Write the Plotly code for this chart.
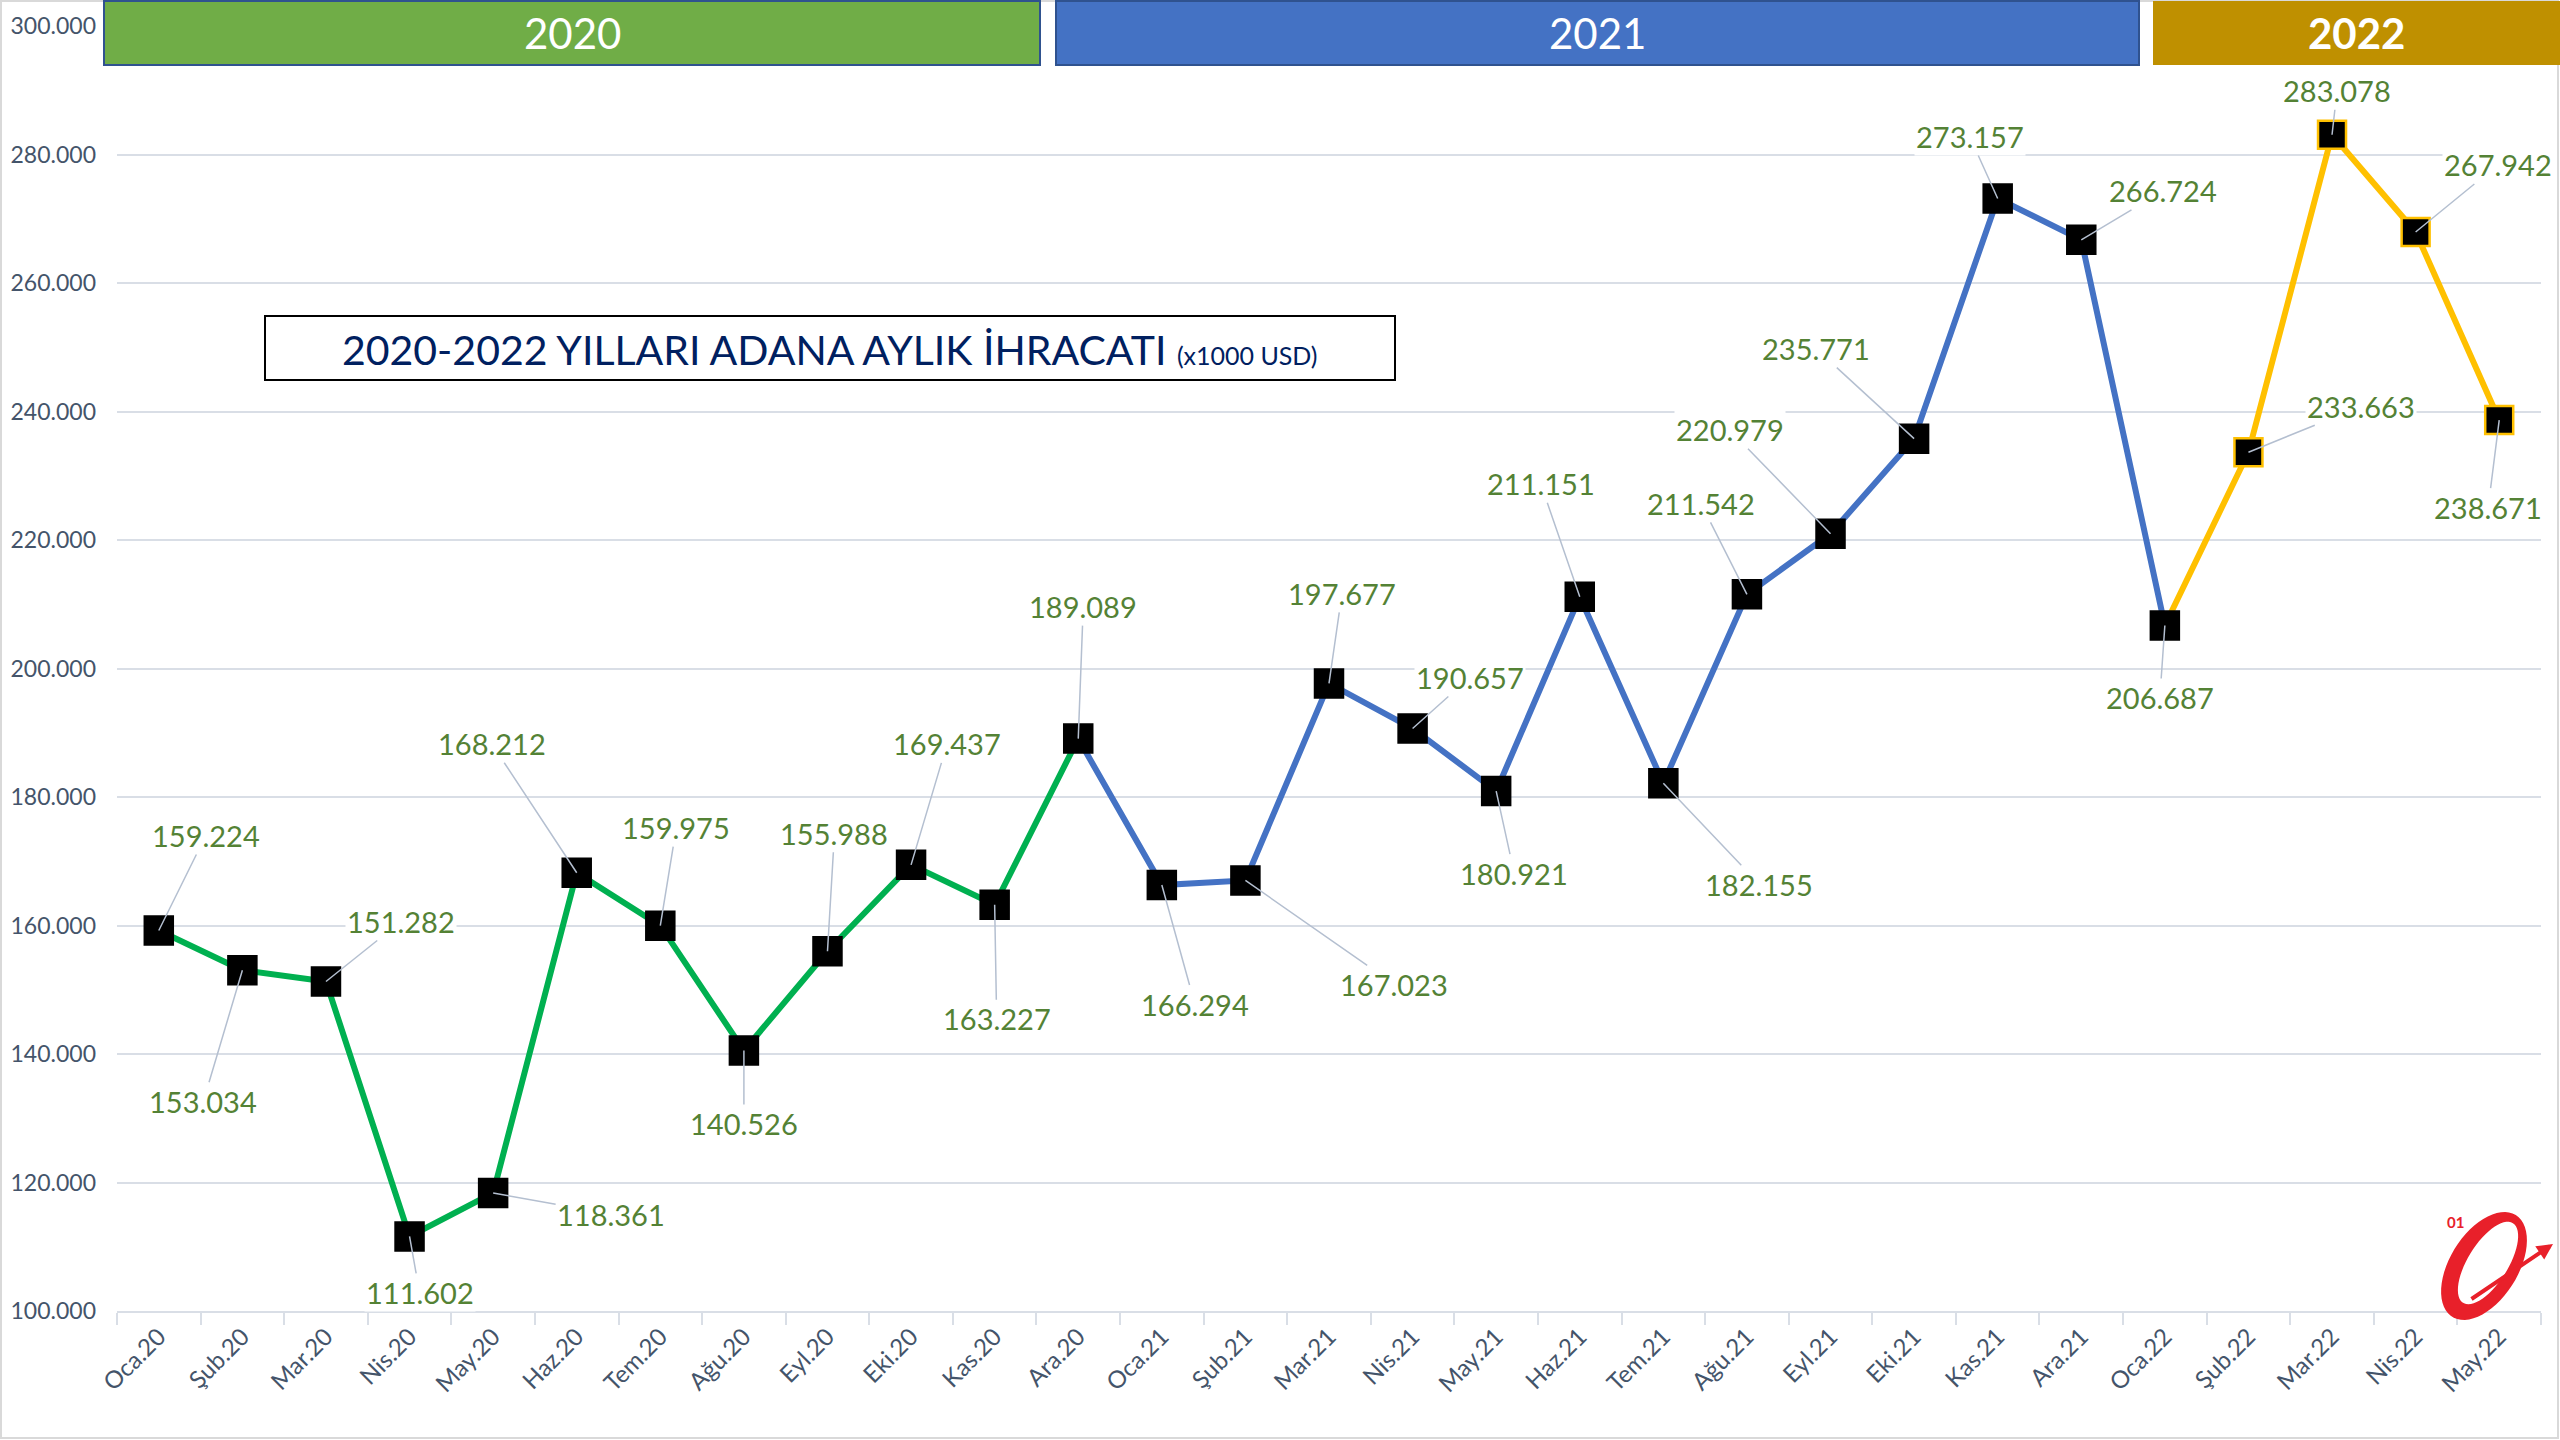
import numpy as np
import plotly.graph_objects as go

# --- data (x1000 USD) ---
months = ['Oca.20', 'Şub.20', 'Mar.20', 'Nis.20', 'May.20', 'Haz.20', 'Tem.20', 'Ağu.20',
          'Eyl.20', 'Eki.20', 'Kas.20', 'Ara.20',
          'Oca.21', 'Şub.21', 'Mar.21', 'Nis.21', 'May.21', 'Haz.21', 'Tem.21', 'Ağu.21',
          'Eyl.21', 'Eki.21', 'Kas.21', 'Ara.21',
          'Oca.22', 'Şub.22', 'Mar.22', 'Nis.22', 'May.22']
exports = [159224, 153034, 151282, 111602, 118361, 168212, 159975, 140526,
           155988, 169437, 163227, 189089,
           166294, 167023, 197677, 190657, 180921, 211151, 182155, 211542,
           220979, 235771, 273157, 266724,
           206687, 233663, 283078, 267942, 238671]
year_labels = ['2020', '2021', '2022']

# label offsets in pixels (dx, dy) from each marker
label_offsets = [(47, -95), (-39, 131), (75, -60), (10, 56), (118, 21), (-85, -129),
                 (16, -98), (0, 73), (7, -118), (36, -121), (2, 114), (5, -132),
                 (33, 119), (149, 104), (13, -90), (57, -51), (18, 82), (-39, -113),
                 (96, 101), (-46, -91), (-101, -104), (-98, -90), (-28, -62), (82, -49),
                 (-5, 72), (113, -46), (5, -44), (82, -67), (-11, 87)]

FONT = 'Lato, sans-serif'
GREEN, BLUE, GOLD = '#00B050', '#4472C4', '#FFC000'

fig = go.Figure()

# line segments per year (2021 line starts at Ara.20, 2022 at Oca.22)
segments = [(0, 12, GREEN), (11, 25, BLUE), (24, 29, GOLD)]
for a, b, col in segments:
    fig.add_trace(go.Scatter(x=months[a:b], y=exports[a:b], mode='lines',
                             line=dict(color=col, width=6), hoverinfo='skip'))

outline = ['black'] * 25 + [GOLD] * 4
fig.add_trace(go.Scatter(x=months, y=exports, mode='markers',
                         marker=dict(symbol='square', size=28, color='black',
                                     line=dict(color=outline, width=2.5))))

# data labels with leader lines
for m, v, (dx, dy) in zip(months, exports, label_offsets):
    fig.add_annotation(x=m, y=v, ax=dx, ay=dy, text=f'{v // 1000}.{v % 1000:03d}',
                       showarrow=True, arrowhead=0, arrowwidth=1.5, arrowcolor='#B4BFD0',
                       bgcolor='white', borderpad=1,
                       font=dict(family=FONT, size=29, color='#548235'))

# pixel -> paper helpers (plot area 117..2541 x 26..1311)
L, R, T, B = 117, 2541, 26, 1311
px = lambda x: (x - L) / (R - L)
py = lambda y: 1 - (y - T) / (B - T)

def note(x, y, text, **kw):
    fig.add_annotation(xref='paper', yref='paper', x=px(x), y=py(y), text=text,
                       showarrow=False, xanchor='center', yanchor='middle', **kw)

shapes = []
# outer chart border
shapes.append(dict(type='rect', xref='paper', yref='paper', x0=px(1), x1=px(2558),
                   y0=py(1438), y1=py(1), line=dict(color='#D9D9D9', width=2), layer='below'))
# year bands
bands = [(104, 1040, '#70AD47', '#2F528F'), (1056, 2139, '#4472C4', '#2F528F'),
         (2153, 2560, '#BF9000', None)]
for (x0, x1, fill, edge), lab in zip(bands, year_labels):
    shapes.append(dict(type='rect', xref='paper', yref='paper', x0=px(x0), x1=px(x1),
                       y0=py(65), y1=py(1), fillcolor=fill, layer='above',
                       line=dict(color=edge or fill, width=2 if edge else 0)))
    note((x0 + x1) / 2, 33, f'<b>{lab}</b>' if lab == '2022' else lab,
         font=dict(family=FONT, size=42, color='white'))
# title box
shapes.append(dict(type='rect', xref='paper', yref='paper', x0=px(265), x1=px(1395),
                   y0=py(380), y1=py(316), fillcolor='white', layer='above',
                   line=dict(color='black', width=2)))
note(830, 349, "2020-2022 YILLARI ADANA AYLIK İHRACATI <span style='font-size:25px'>(x1000 USD)</span>",
     font=dict(family=FONT, size=41, color='#002060'))

# logo
t = np.linspace(0, 2 * np.pi, 60)
ang = np.deg2rad(58)
def ell(cx, cy, a, b, rev=False):
    tt = t[::-1] if rev else t
    xs = cx + a * np.cos(tt) * np.cos(ang) - b * np.sin(tt) * np.sin(ang)
    ys = cy - (a * np.cos(tt) * np.sin(ang) + b * np.sin(tt) * np.cos(ang))
    return xs, ys
ox, oy = ell(2484, 1266, 60, 34)
ix, iy = ell(2488, 1263, 47, 20, rev=True)
path = 'M ' + ' L '.join(f'{px(a):.5f},{py(b):.5f}' for a, b in zip(ox, oy)) + ' Z '
path += 'M ' + ' L '.join(f'{px(a):.5f},{py(b):.5f}' for a, b in zip(ix, iy)) + ' Z'
shapes.append(dict(type='path', xref='paper', yref='paper', path=path,
                   fillcolor='#E8202A', line=dict(width=0), layer='above'))
fig.add_annotation(xref='paper', yref='paper', x=px(2553), y=py(1244),
                   ax=-83, ay=56, text='',
                   showarrow=True, arrowhead=2, arrowsize=0.8, arrowwidth=4,
                   arrowcolor='#E8202A')
note(2455, 1222, '<b>01</b>', font=dict(family=FONT, size=15, color='#E8202A'))

fig.update_layout(
    width=2560, height=1440,
    margin=dict(l=L, r=2560 - R, t=T, b=1440 - B),
    paper_bgcolor='white', plot_bgcolor='white',
    showlegend=False, separators=',.',
    shapes=shapes,
    font=dict(family=FONT, color='#44546A'),
)
fig.update_xaxes(type='category', range=[-0.5, len(months) - 0.5],
                 tickangle=-45, tickson='boundaries', ticks='outside',
                 ticklen=12, tickwidth=2, tickcolor='#D9DEE6', showgrid=False,
                 showline=True, linecolor='#D9DEE6', linewidth=2, automargin=False,
                 tickfont=dict(family=FONT, size=24, color='#44546A'))
fig.update_yaxes(range=[100000, 300000], dtick=20000, tickformat=',d',
                 gridcolor='#D9DEE6', gridwidth=2, zeroline=False, showline=False,
                 ticklabelstandoff=20, automargin=False,
                 tickfont=dict(family=FONT, size=23, color='#44546A'))

fig.write_html('out.html', config={'displayModeBar': False},
               post_script="document.body.style.margin='0';")
